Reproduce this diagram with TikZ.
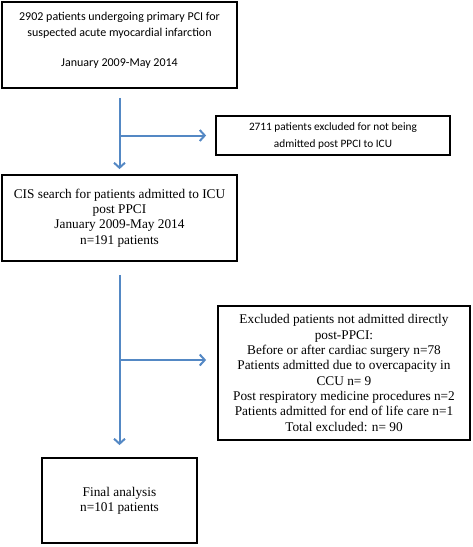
\documentclass[tikz,border=0pt]{standalone}
\usepackage{fontspec}
\setmainfont{Liberation Serif}
\newfontfamily\calibri{Carlito}
\usetikzlibrary{arrows.meta}
\definecolor{flowblue}{RGB}{84,136,196}

\begin{document}
\begin{tikzpicture}[x=1pt,y=-1pt,
  box/.style={draw,line width=1.8pt,align=center,inner sep=0pt},
  sansbox/.style={box,font=\calibri\fontsize{12}{16}\selectfont},
  serifbox/.style={box,font=\fontsize{13.3}{15.3}\selectfont},
  flow/.style={draw=flowblue,line width=2pt,-{Straight Barb[length=5pt,width=11pt,line width=2pt]}}]
\useasboundingbox (0,0) rectangle (472,547);
\node[sansbox,minimum width=235,minimum height=86] (start) at (119.5,45)
  {2902 patients undergoing primary PCI for\\suspected acute myocardial infarction\\[14pt]January 2009-May 2014\\[-4pt]\mbox{}};
\node[sansbox,minimum width=234,minimum height=39,font=\calibri\fontsize{11.3}{17}\selectfont] (excl1) at (333,135.5)
  {2711 patients excluded for not being\\admitted post PPCI to ICU};
\node[serifbox,minimum width=235,minimum height=86] (cis) at (119.5,218)
  {CIS search for patients admitted to ICU\\post PPCI\\January 2009-May 2014\\n=191 patients};
\node[serifbox,minimum width=252,minimum height=134] (excl2) at (344,373)
  {Excluded patients not admitted directly\\post-PPCI:\\Before or after cardiac surgery n=78\\Patients admitted due to overcapacity in\\CCU n= 9\\Post respiratory medicine procedures n=2\\Patients admitted for end of life care n=1\\Total excluded: n= 90};
\node[serifbox,minimum width=155,minimum height=85] (final) at (119.5,500.5)
  {Final analysis\\n=101 patients};
\coordinate (b1) at (start.south |- excl1.west);
\coordinate (b2) at (119.5,360);
% main flow
\path[flow,shorten <=9pt,shorten >=5pt] (start.south) -- (cis.north);
\path[flow,shorten <=13pt,shorten >=12pt] (cis.south) -- (final.north);
% exclusions
\path[flow,shorten >=9pt] (b1) -- (excl1.west);
\path[flow,shorten >=11pt] (b2) -- (b2 -| excl2.west);
\end{tikzpicture}
\end{document}
